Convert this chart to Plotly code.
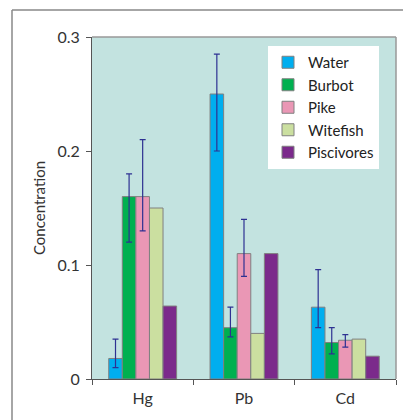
import plotly.graph_objects as go

categories = ["Hg", "Pb", "Cd"]
series = ["Water", "Burbot", "Pike", "Witefish", "Piscivores"]
colors = ["#00aeef", "#00b050", "#ea97b5", "#cbdfa0", "#7b2a8b"]

water = [0.018, 0.25, 0.063]
burbot = [0.16, 0.045, 0.032]
pike = [0.16, 0.11, 0.034]
witefish = [0.15, 0.04, 0.035]
piscivores = [0.064, 0.11, 0.02]

water_err_up = [0.017, 0.035, 0.033]
water_err_down = [0.008, 0.05, 0.018]
burbot_err_up = [0.02, 0.018, 0.013]
burbot_err_down = [0.04, 0.008, 0.010]
pike_err_up = [0.05, 0.03, 0.005]
pike_err_down = [0.03, 0.02, 0.006]

values = [water, burbot, pike, witefish, piscivores]
err_up = [water_err_up, burbot_err_up, pike_err_up, None, None]
err_down = [water_err_down, burbot_err_down, pike_err_down, None, None]

FONT = "Lato, Open Sans, sans-serif"

fig = go.Figure()
for name, vals, col, eu, ed in zip(series, values, colors, err_up, err_down):
    kw = {}
    if eu is not None:
        kw["error_y"] = dict(type="data", symmetric=False, array=eu, arrayminus=ed,
                             color="#2e3192", thickness=1.2, width=3)
    fig.add_trace(go.Bar(x=categories, y=vals, name=name,
                         marker=dict(color=col, line=dict(color="#808080", width=1)),
                         **kw))

L, R, T, B = 92, 7, 37, 41
W, H = 403, 420
pw, ph = W - L - R, H - T - B

def px(x):
    return (x - L) / pw

def py(y):
    return (H - B - y) / ph

fig.update_layout(
    width=W, height=H,
    margin=dict(l=L, r=R, t=T, b=B),
    paper_bgcolor="white",
    plot_bgcolor="#c3e3e0",
    barmode="group",
    bargap=0.33,
    bargroupgap=0,
    font=dict(family=FONT, size=14, color="#333333"),
    legend=dict(x=px(268), y=py(46), xanchor="left", yanchor="top",
                bgcolor="white", font=dict(size=15, color="#222222"),
                itemwidth=30, tracegroupgap=0, borderwidth=0),
    xaxis=dict(showline=True, linecolor="#555555", linewidth=1,
               ticks="outside", tickson="boundaries", ticklen=5, tickcolor="#555555",
               ticklabelstandoff=5,
               tickfont=dict(size=16, color="#333333"), mirror=False),
    yaxis=dict(range=[0, 0.3], tickvals=[0, 0.1, 0.2, 0.3], ticktext=["0", "0.1", "0.2", "0.3"],
               showgrid=False, zeroline=False, showline=True, linecolor="#555555", linewidth=1,
               ticks="outside", ticklen=5, tickcolor="#555555",
               ticklabelstandoff=3,
               tickfont=dict(size=16, color="#333333"),
               title=dict(text="Concentration", font=dict(size=15, color="#333333"), standoff=8)),
    shapes=[
        dict(type="line", xref="paper", yref="paper", x0=0, x1=1, y0=1, y1=1,
             line=dict(color="#999999", width=1.5)),
        dict(type="line", xref="paper", yref="paper", x0=1, x1=1, y0=0, y1=1,
             line=dict(color="#999999", width=1.5)),
        dict(type="line", xref="paper", yref="paper", x0=px(12), x1=px(12), y0=py(10), y1=py(430),
             line=dict(color="#888888", width=1.5)),
        dict(type="line", xref="paper", yref="paper", x0=px(12), x1=px(410), y0=py(10), y1=py(10),
             line=dict(color="#888888", width=1.5)),
    ],
)

fig.write_html("out.html")
